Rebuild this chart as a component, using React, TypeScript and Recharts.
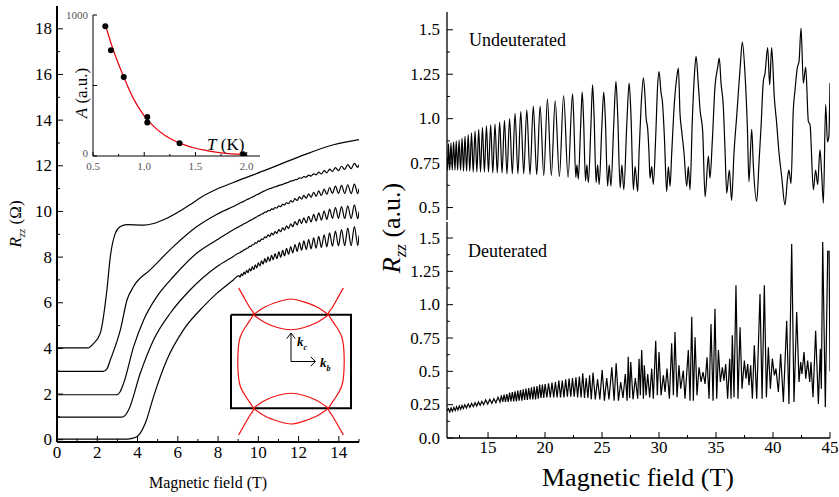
import React from 'react'
import { LineChart, Line, XAxis, YAxis, ComposedChart } from 'recharts'

const SERIF = '"Liberation Serif", "DejaVu Serif", "Times New Roman", Times, serif'

// ---- left panel: Rzz(B) at several temperatures, offset by 1 ohm each
const rise0 = [[0, 0.03], [3.5, 0.03], [3.73, 0.06], [4.0, 0.15], [4.4, 0.75], [4.8, 1.9], [5.46, 3.5], [6.29, 4.82], [7.28, 5.84], [7.95, 6.42], [8.76, 7.0]]
const rise1 = [[0, 0.99], [3.2, 0.99], [3.4, 1.08], [3.56, 1.31], [4.14, 2.92], [4.8, 4.38], [5.63, 5.55], [6.62, 6.57], [7.95, 7.59], [8.76, 8.03]]
const rise2 = [[0, 1.97], [2.95, 1.97], [3.12, 2.08], [3.31, 2.48], [3.81, 4.09], [4.31, 5.26], [4.97, 6.28], [5.79, 7.15], [6.95, 8.18], [7.95, 8.76], [8.76, 9.2]]
const rise3 = [[0, 2.99], [2.3, 2.99], [2.48, 3.1], [2.65, 3.5], [3.15, 4.82], [3.48, 6.13], [3.81, 6.72], [4.64, 7.45], [5.79, 8.47], [6.95, 9.34], [7.95, 9.88], [8.76, 10.22]]
const curve4 = [[0, 4.02], [1.55, 4.02], [1.8, 4.2], [2.15, 4.67], [2.48, 6.57], [2.65, 8.03], [2.9, 9.05], [3.15, 9.34], [3.48, 9.42], [4.3, 9.4], [4.8, 9.47], [5.46, 9.7], [6.62, 10.3], [7.1, 10.59], [7.95, 10.98], [8.76, 11.27], [10.42, 11.83], [12.07, 12.41], [13.73, 12.92], [15, 13.15]]

// extrema of the SdH wiggles above 9 T (shared field positions)
const oscField = [9.03, 9.09, 9.16, 9.22, 9.29, 9.35, 9.42, 9.49, 9.56, 9.63, 9.7, 9.77, 9.85, 9.92, 10.0, 10.08, 10.16, 10.24, 10.32, 10.4, 10.48, 10.57, 10.66, 10.74, 10.83, 10.92, 11.02, 11.11, 11.21, 11.3, 11.4, 11.5, 11.61, 11.71, 11.82, 11.93, 12.04, 12.15, 12.26, 12.38, 12.5, 12.62, 12.75, 12.87, 13.0, 13.13, 13.27, 13.4, 13.54, 13.68, 13.83, 13.98, 14.13, 14.29, 14.44, 14.61, 14.77, 14.94, 15.0]
const osc0 = [7.19, 7.12, 7.27, 7.19, 7.34, 7.25, 7.42, 7.32, 7.5, 7.39, 7.58, 7.45, 7.66, 7.53, 7.75, 7.61, 7.84, 7.69, 7.93, 7.76, 8.01, 7.82, 8.08, 7.88, 8.15, 7.93, 8.23, 7.99, 8.3, 8.05, 8.38, 8.12, 8.46, 8.18, 8.55, 8.25, 8.64, 8.3, 8.71, 8.33, 8.77, 8.36, 8.84, 8.39, 8.91, 8.42, 8.98, 8.45, 9.06, 8.48, 9.14, 8.49, 9.2, 8.5, 9.27, 8.5, 9.34, 8.51, 8.95]
const osc1 = [8.18, 8.19, 8.25, 8.26, 8.32, 8.33, 8.39, 8.4, 8.47, 8.47, 8.54, 8.54, 8.63, 8.61, 8.71, 8.69, 8.8, 8.77, 8.89, 8.85, 8.97, 8.91, 9.05, 8.97, 9.12, 9.04, 9.2, 9.11, 9.28, 9.18, 9.37, 9.25, 9.46, 9.33, 9.55, 9.41, 9.65, 9.47, 9.72, 9.5, 9.79, 9.54, 9.87, 9.58, 9.94, 9.62, 10.02, 9.65, 10.1, 9.7, 10.17, 9.7, 10.21, 9.69, 10.25, 9.69, 10.29, 9.68, 10.0]
const osc2 = [9.33, 9.36, 9.39, 9.42, 9.46, 9.48, 9.52, 9.55, 9.59, 9.62, 9.65, 9.69, 9.73, 9.76, 9.81, 9.83, 9.89, 9.9, 9.97, 9.97, 10.04, 10.03, 10.11, 10.09, 10.17, 10.15, 10.25, 10.21, 10.32, 10.28, 10.39, 10.34, 10.47, 10.41, 10.56, 10.48, 10.64, 10.54, 10.7, 10.58, 10.77, 10.62, 10.84, 10.66, 10.9, 10.7, 10.98, 10.75, 11.05, 10.79, 11.11, 10.79, 11.14, 10.79, 11.17, 10.78, 11.2, 10.78, 11.0]
const osc3 = [10.34, 10.37, 10.4, 10.42, 10.45, 10.48, 10.51, 10.54, 10.57, 10.6, 10.63, 10.66, 10.7, 10.73, 10.76, 10.8, 10.84, 10.87, 10.91, 10.94, 10.97, 11.0, 11.02, 11.05, 11.08, 11.1, 11.14, 11.16, 11.19, 11.22, 11.25, 11.28, 11.33, 11.34, 11.39, 11.4, 11.47, 11.46, 11.53, 11.5, 11.59, 11.55, 11.65, 11.6, 11.72, 11.64, 11.79, 11.69, 11.85, 11.75, 11.92, 11.79, 11.98, 11.84, 12.05, 11.88, 12.11, 11.93, 12.05]

const fieldTicks = [0, 1, 2, 3, 4, 5, 6, 7, 8, 9, 10, 11, 12, 13, 14, 15]
const rTicks = [0, 1, 2, 3, 4, 5, 6, 7, 8, 9, 10, 11, 12, 13, 14, 15, 16, 17, 18]

// ---- inset: oscillation amplitude vs temperature
const ampPoints = [[0.62, 921], [0.675, 750], [0.8, 561], [1.03, 276], [1.03, 238], [1.345, 90], [1.965, 12]]
const ampFit = [[0.62, 930], [0.7, 748], [0.8, 561], [0.9, 400], [1.0, 285], [1.1, 205], [1.2, 147], [1.3, 106], [1.4, 77], [1.5, 55], [1.6, 40], [1.7, 28], [1.8, 19], [1.9, 13], [2.0, 9]]
const tTicks = [0.5, 0.75, 1.0, 1.25, 1.5, 1.75, 2.0]
const aTicks = [0, 500, 1000]

// ---- Fermi surface sketch (units of half the zone box)
const sheetLeft = [[-0.873, 1.572], [-0.762, 1.321], [-0.662, 1.107], [-0.628, 1.0], [-0.745, 0.764], [-0.845, 0.529], [-0.878, 0.293], [-0.887, 0], [-0.878, -0.293], [-0.845, -0.529], [-0.745, -0.764], [-0.628, -1.0], [-0.662, -1.107], [-0.762, -1.321], [-0.873, -1.572]]
const sheetRight = [[0.873, 1.572], [0.762, 1.321], [0.662, 1.107], [0.628, 1.0], [0.745, 0.764], [0.845, 0.529], [0.878, 0.293], [0.887, 0], [0.878, -0.293], [0.845, -0.529], [0.745, -0.764], [0.628, -1.0], [0.662, -1.107], [0.762, -1.321], [0.873, -1.572]]
const lensTopUpper = [[-0.628, 1.0], [-0.428, 1.171], [-0.212, 1.278], [0, 1.336], [0.205, 1.278], [0.422, 1.171], [0.628, 1.0]]
const lensTopLower = [[-0.628, 1.0], [-0.428, 0.829], [-0.212, 0.722], [0, 0.679], [0.205, 0.722], [0.422, 0.829], [0.628, 1.0]]
const lensBotUpper = [[-0.628, -1.0], [-0.428, -0.829], [-0.212, -0.722], [0, -0.679], [0.205, -0.722], [0.422, -0.829], [0.628, -1.0]]
const lensBotLower = [[-0.628, -1.0], [-0.428, -1.171], [-0.212, -1.278], [0, -1.336], [0.205, -1.278], [0.422, -1.171], [0.628, -1.0]]
const zoneBox = [[-1, 1], [1, 1], [1, -1], [-1, -1], [-1, 1]]
const arrowC = [[0, 0], [0, 0.61]]
const arrowCHead = [[-0.07, 0.49], [0, 0.61], [0.07, 0.49]]
const arrowB = [[0, 0], [0.405, 0]]
const arrowBHead = [[0.33, 0.1], [0.405, 0], [0.33, -0.1]]

// ---- right panels: high field traces
const undeuterated = [
  [11.4, 0.78], [11.46, 0.71], [11.53, 0.86], [11.64, 0.71], [11.75, 0.865], [11.86, 0.71], [11.98, 0.87], [12.1, 0.71], [12.21, 0.875], [12.33, 0.71],
  [12.46, 0.88], [12.59, 0.71], [12.72, 0.89], [12.85, 0.705], [12.98, 0.9], [13.12, 0.705], [13.26, 0.91], [13.4, 0.705], [13.55, 0.92], [13.7, 0.7],
  [13.86, 0.93], [14.02, 0.7], [14.18, 0.94], [14.34, 0.7], [14.51, 0.95], [14.68, 0.7], [14.86, 0.96], [15.04, 0.7], [15.23, 0.965], [15.42, 0.695],
  [15.61, 0.97], [15.81, 0.695], [16.02, 0.98], [16.23, 0.695], [16.44, 0.99], [16.66, 0.69], [16.89, 1.0], [17.13, 0.69], [17.37, 1.03], [17.62, 0.69],
  [17.87, 1.04], [18.13, 0.69], [18.4, 1.05], [18.68, 0.685], [18.97, 1.07], [19.27, 0.685], [19.57, 1.07], [19.89, 0.68], [20.21, 1.11], [20.55, 0.68],
  [20.89, 1.1], [21.26, 0.675], [21.63, 1.13], [22.02, 0.67], [22.41, 1.14],
  [22.52, 1.0], [22.7, 0.67], [22.8, 0.74], [22.92, 0.66], [23.12, 0.95], [23.26, 1.15],
  [23.38, 1.0], [23.55, 0.65], [23.67, 0.74], [23.8, 0.64], [24.02, 0.95], [24.17, 1.19],
  [24.3, 1.02], [24.48, 0.64], [24.61, 0.74], [24.75, 0.63], [24.98, 0.95], [25.15, 1.15],
  [25.29, 1.0], [25.49, 0.62], [25.63, 0.74], [25.78, 0.62], [26.03, 0.97], [26.22, 1.21],
  [26.37, 1.03], [26.59, 0.61], [26.74, 0.74], [26.91, 0.6], [27.18, 0.98], [27.38, 1.2],
  [27.54, 1.02], [27.75, 0.6], [27.9, 0.73], [28.13, 0.59], [28.25, 0.81], [28.42, 1.06], [28.63, 1.23],
  [28.77, 1.125], [28.86, 1.01], [29.01, 0.94], [29.12, 0.81], [29.21, 0.665], [29.36, 0.73], [29.5, 0.63], [29.71, 0.9], [29.88, 1.19], [30.0, 1.265],
  [30.18, 1.145], [30.29, 1.1], [30.47, 0.9], [30.67, 0.59], [30.82, 0.73], [30.97, 0.62], [31.11, 0.8], [31.35, 1.09], [31.55, 1.23], [31.7, 1.285],
  [31.84, 1.03], [31.99, 0.93], [32.19, 0.81], [32.43, 0.62], [32.57, 0.73], [32.72, 0.6], [32.92, 0.99], [33.1, 1.24], [33.25, 1.35], [33.45, 1.19],
  [33.6, 1.05], [33.83, 0.93], [34.04, 0.56], [34.33, 0.79], [34.47, 0.665], [34.68, 0.88], [34.91, 1.18], [35.15, 1.29], [35.29, 1.34], [35.44, 1.2],
  [35.64, 1.07], [35.79, 0.825], [35.94, 0.58], [36.17, 0.71], [36.37, 0.54], [36.58, 0.81], [36.81, 1.01], [37.11, 1.28], [37.31, 1.43], [37.54, 1.255],
  [37.75, 0.955], [37.89, 0.645], [38.13, 0.94], [38.28, 0.73], [38.57, 0.535], [38.77, 0.75], [38.95, 0.955], [39.15, 1.21], [39.3, 1.255], [39.53, 1.4],
  [39.71, 1.19], [39.88, 1.4], [40.12, 1.115], [40.32, 0.975], [40.53, 0.805], [40.76, 0.675], [41.05, 0.515], [41.29, 0.675], [41.4, 0.71], [41.58, 0.635],
  [41.78, 1.05], [41.93, 1.16], [42.14, 1.29], [42.28, 1.32], [42.46, 1.51], [42.66, 1.2], [42.87, 1.29], [43.1, 0.985], [43.25, 0.965], [43.54, 0.6],
  [43.74, 0.71], [43.92, 0.63], [44.12, 0.825], [44.27, 0.69], [44.42, 0.525], [44.62, 1.08], [44.78, 0.87], [44.9, 0.9], [45.0, 1.2],
]

const deuterated = [
  [11.4, 0.205], [11.52, 0.22], [11.64, 0.195], [11.76, 0.225], [11.88, 0.2], [12.0, 0.23], [12.12, 0.205], [12.24, 0.235], [12.36, 0.21], [12.48, 0.24],
  [12.6, 0.215], [12.72, 0.245], [12.84, 0.22], [12.96, 0.25], [13.11, 0.225], [13.26, 0.255], [13.41, 0.23], [13.56, 0.26], [13.71, 0.235], [13.86, 0.265],
  [14.01, 0.24], [14.16, 0.27], [14.31, 0.245], [14.46, 0.275], [14.61, 0.25], [14.79, 0.285], [14.97, 0.255], [15.15, 0.29], [15.33, 0.26], [15.51, 0.295],
  [15.69, 0.265], [15.87, 0.305], [16.05, 0.27], [16.17, 0.32], [16.29, 0.27], [16.41, 0.325], [16.53, 0.27], [16.65, 0.33], [16.77, 0.27], [16.89, 0.34],
  [17.01, 0.275], [17.13, 0.345], [17.25, 0.275], [17.37, 0.35], [17.49, 0.275], [17.61, 0.355], [17.73, 0.28], [17.85, 0.36], [17.97, 0.28], [18.09, 0.365],
  [18.21, 0.285], [18.33, 0.37], [18.45, 0.285], [18.57, 0.375], [18.69, 0.29], [18.81, 0.38], [18.93, 0.29], [19.05, 0.385], [19.17, 0.29], [19.29, 0.39],
  [19.41, 0.295], [19.53, 0.4], [19.65, 0.3], [19.77, 0.4], [19.89, 0.3], [20.01, 0.405], [20.16, 0.305], [20.31, 0.41], [20.46, 0.305], [20.61, 0.415],
  [20.76, 0.305], [20.91, 0.42], [21.06, 0.305], [21.21, 0.43], [21.36, 0.305], [21.51, 0.43], [21.66, 0.305], [21.81, 0.44], [21.96, 0.31], [22.11, 0.445],
  [22.26, 0.31], [22.41, 0.45], [22.56, 0.31], [22.71, 0.455], [22.86, 0.305], [23.01, 0.46], [23.16, 0.305], [23.31, 0.485], [23.46, 0.3], [23.61, 0.45],
  [23.76, 0.3], [23.91, 0.47], [24.06, 0.29], [24.21, 0.49], [24.41, 0.29], [24.61, 0.44], [24.81, 0.29], [25.01, 0.51], [25.21, 0.28], [25.41, 0.45],
  [25.61, 0.29], [25.86, 0.53], [26.06, 0.28], [26.24, 0.56], [26.44, 0.28], [26.64, 0.42], [26.84, 0.3], [27.04, 0.48], [27.2, 0.28], [27.3, 0.61],
  [27.42, 0.3], [27.52, 0.57], [27.72, 0.29], [27.92, 0.45], [28.13, 0.295], [28.25, 0.595], [28.36, 0.32], [28.48, 0.66], [28.63, 0.295], [28.71, 0.545],
  [28.86, 0.32], [29.01, 0.48], [29.18, 0.305], [29.36, 0.52], [29.5, 0.295], [29.71, 0.73], [29.85, 0.32], [30.0, 0.645], [30.18, 0.32], [30.38, 0.47],
  [30.53, 0.345], [30.7, 0.52], [30.91, 0.295], [31.11, 0.71], [31.26, 0.32], [31.4, 0.795], [31.58, 0.305], [31.75, 0.545], [31.9, 0.37], [32.13, 0.505],
  [32.28, 0.295], [32.57, 0.66], [32.72, 0.28], [32.87, 0.91], [33.01, 0.28], [33.16, 0.755], [33.33, 0.32], [33.51, 0.53], [33.69, 0.42], [33.86, 0.495],
  [34.04, 0.405], [34.21, 0.605], [34.39, 0.295], [34.56, 0.855], [34.74, 0.28], [34.91, 0.97], [35.06, 0.295], [35.21, 0.66], [35.38, 0.42], [35.56, 0.53],
  [35.7, 0.43], [35.85, 0.555], [36.02, 0.295], [36.2, 0.595], [36.32, 0.295], [36.43, 0.77], [36.58, 0.305], [36.75, 1.145], [36.93, 0.295], [37.11, 0.83],
  [37.28, 0.37], [37.49, 0.58], [37.63, 0.445], [37.78, 0.555], [37.89, 0.395], [38.04, 0.545], [38.19, 0.295], [38.36, 0.695], [38.57, 0.295], [38.86, 1.08],
  [39.04, 0.295], [39.24, 1.145], [39.42, 0.305], [39.59, 0.68], [39.77, 0.37], [39.94, 0.595], [40.12, 0.47], [40.26, 0.52], [40.47, 0.345], [40.67, 0.63],
  [40.91, 0.27], [41.2, 0.88], [41.4, 0.255], [41.64, 1.455], [41.84, 0.27], [42.08, 0.945], [42.28, 0.42], [42.43, 0.57], [42.54, 0.48], [42.72, 0.645],
  [42.87, 0.445], [43.04, 0.58], [43.22, 0.42], [43.33, 0.57], [43.51, 0.305], [43.74, 0.805], [43.98, 0.255], [44.15, 0.67], [44.24, 0.37], [44.36, 1.47],
  [44.59, 0.23], [44.8, 1.4], [44.92, 1.4], [45.0, 0.5],
]

const highFieldTicks = [12.5, 15, 17.5, 20, 22.5, 25, 27.5, 30, 32.5, 35, 37.5, 40, 42.5, 45]
const upperTicks = [0.5, 0.625, 0.75, 0.875, 1, 1.125, 1.25, 1.375, 1.5]
const lowerTicks = [0, 0.125, 0.25, 0.375, 0.5, 0.625, 0.75, 0.875, 1, 1.125, 1.25, 1.375, 1.5]

type Pair = number[]
const pts = (pairs: Pair[]) => pairs.map(([x, y]) => ({ x, y }))
const withOsc = (rise: Pair[], osc: number[]) => [...pts(rise), ...oscField.map((x, i) => ({ x, y: osc[i] }))]

type Side = 'left' | 'right' | 'top' | 'bottom'
interface TickOpts {
  isMajor: (v: number) => boolean
  label?: (v: number) => string | null
  fontSize?: number
  color?: string
  major?: number
  minor?: number
  gap?: number
  dy?: number
}

function makeTick(side: Side, o: TickOpts) {
  return (props: any) => {
    const { x, y, payload } = props
    const v = payload.value as number
    const big = o.isMajor(v)
    const len = big ? o.major ?? 6 : o.minor ?? 3
    const text = big && o.label ? o.label(v) : null
    const gap = o.gap ?? 6
    let l = { x1: x, x2: x, y1: y, y2: y }
    if (side === 'left') l = { ...l, x2: x + len }
    if (side === 'right') l = { ...l, x2: x - len }
    if (side === 'top') l = { ...l, y2: y + len }
    if (side === 'bottom') l = { ...l, y2: y - len }
    const font = { fontSize: o.fontSize ?? 17, fontFamily: SERIF, fill: o.color ?? '#000' }
    return (
      <g>
        <line {...l} stroke="#000" strokeWidth={1} />
        {text !== null && side === 'left' && (
          <text x={x - gap} y={y + (v === 0 ? o.dy ?? 0 : 0)} textAnchor="end" dominantBaseline="central" style={font}>
            {text}
          </text>
        )}
        {text !== null && side === 'bottom' && (
          <text x={x} y={y + gap} textAnchor="middle" dominantBaseline="hanging" style={font}>
            {text}
          </text>
        )}
      </g>
    )
  }
}

const even = (v: number) => v % 2 === 0
const quarter = (v: number) => Math.abs(v * 4 - Math.round(v * 4)) < 1e-9
const half = (v: number) => Math.abs(v * 2 - Math.round(v * 2)) < 1e-9
const five = (v: number) => v % 5 === 0
const oneDecimal = (v: number) => (v % 1 === 0 ? v.toFixed(1) : String(v))

const axisBase = { type: 'number' as const, interval: 0 as const, tickSize: 0, tickMargin: 0, tickLine: false, allowDataOverflow: true }

function abs(left: number, top: number, extra: React.CSSProperties = {}): React.CSSProperties {
  return { position: 'absolute', left, top, whiteSpace: 'nowrap', fontFamily: SERIF, color: '#000', lineHeight: 1, ...extra }
}

function MainPanel() {
  const frame = { stroke: '#000', strokeWidth: 2 }
  const curves = [pts(curve4), withOsc(rise3, osc3), withOsc(rise2, osc2), withOsc(rise1, osc1), withOsc(rise0, osc0)]
  return (
    <LineChart width={380} height={497} margin={{ top: 6, right: 21, bottom: 25, left: 0 }}>
      <XAxis {...axisBase} xAxisId="b" dataKey="x" domain={[0, 15]} ticks={fieldTicks} height={30} axisLine={frame}
        tick={makeTick('bottom', { isMajor: even, label: (v) => String(v), gap: 4 })} />
      <XAxis {...axisBase} xAxisId="t" orientation="top" dataKey="x" domain={[0, 15]} ticks={fieldTicks} height={0} axisLine={frame}
        tick={makeTick('top', { isMajor: even })} />
      <YAxis {...axisBase} yAxisId="l" domain={[-0.1, 19]} ticks={rTicks} width={57} axisLine={frame}
        tick={makeTick('left', { isMajor: even, label: (v) => String(v), gap: 5 })} />
      <YAxis {...axisBase} yAxisId="r" orientation="right" domain={[-0.1, 19]} ticks={rTicks} width={0} axisLine={frame}
        tick={makeTick('right', { isMajor: even })} />
      {curves.map((d, i) => (
        <Line key={i} xAxisId="b" yAxisId="l" data={d} dataKey="y" type="monotone" stroke="#000" strokeWidth={1.2} dot={false} isAnimationActive={false} />
      ))}
    </LineChart>
  )
}

function AmplitudeInset() {
  const frame = { stroke: '#000', strokeWidth: 1 }
  const tickStyle = { fontSize: 11, color: '#555', major: 4, minor: 2, gap: 6 }
  return (
    <ComposedChart width={280} height={180} margin={{ top: 15, right: 20, bottom: 4, left: 0 }}>
      <XAxis {...axisBase} xAxisId="b" dataKey="x" domain={[0.5, 2.13]} ticks={tTicks} height={20} axisLine={frame}
        tick={makeTick('bottom', { ...tickStyle, isMajor: half, label: (v) => v.toFixed(1) })} />
      <YAxis {...axisBase} yAxisId="l" domain={[0, 1000]} ticks={aTicks} width={93} axisLine={frame}
        tick={makeTick('left', { ...tickStyle, gap: 5, dy: -3, isMajor: () => true, label: (v) => (v === 500 ? null : String(v)) })} />
      <YAxis {...axisBase} yAxisId="r" orientation="right" domain={[0, 1000]} ticks={[500]} width={0} axisLine={frame}
        tick={makeTick('right', { ...tickStyle, isMajor: () => true })} />
      <Line xAxisId="b" yAxisId="l" data={pts(ampFit)} dataKey="y" type="monotone" stroke="#e8000b" strokeWidth={1.2} dot={false} isAnimationActive={false} />
      <Line xAxisId="b" yAxisId="l" data={pts(ampPoints)} dataKey="y" stroke="none" dot={{ r: 3, fill: '#000', stroke: 'none' }} isAnimationActive={false} />
    </ComposedChart>
  )
}

function FermiSketch() {
  const red = [sheetLeft, sheetRight, lensTopUpper, lensTopLower, lensBotUpper, lensBotLower]
  const black = [arrowC, arrowCHead, arrowB, arrowBHead]
  return (
    <LineChart width={144} height={159} margin={{ top: 0, right: 0, bottom: 0, left: 0 }}>
      <XAxis type="number" dataKey="x" domain={[-1.2, 1.2]} hide allowDataOverflow />
      <YAxis type="number" domain={[-1.7, 1.7]} hide allowDataOverflow />
      <Line data={pts(zoneBox)} dataKey="y" type="linear" stroke="#000" strokeWidth={2} dot={false} isAnimationActive={false} />
      {red.map((d, i) => (
        <Line key={'r' + i} data={pts(d)} dataKey="y" type="natural" stroke="#f01010" strokeWidth={1.2} dot={false} isAnimationActive={false} />
      ))}
      {black.map((d, i) => (
        <Line key={'a' + i} data={pts(d)} dataKey="y" type="linear" stroke="#000" strokeWidth={1} dot={false} isAnimationActive={false} />
      ))}
    </LineChart>
  )
}

function HighFieldPanel({ data, domain, ticks, upper }: { data: Pair[]; domain: number[]; ticks: number[]; upper: boolean }) {
  const frame = { stroke: '#000', strokeWidth: 1.3 }
  return (
    <LineChart width={459} height={upper ? 220 : 497} margin={{ top: upper ? 12 : 222, right: 9, bottom: upper ? 0 : 29, left: 0 }}>
      <XAxis {...axisBase} xAxisId="b" dataKey="x" domain={[11.4, 45]} ticks={highFieldTicks} height={upper ? 0 : 30} axisLine={frame}
        tick={makeTick('bottom', { isMajor: five, label: upper ? undefined : (v) => String(v), gap: 3 })} />
      <XAxis {...axisBase} xAxisId="t" orientation="top" dataKey="x" domain={[11.4, 45]} ticks={highFieldTicks} height={0} axisLine={frame}
        tick={makeTick('top', { isMajor: five })} />
      <YAxis {...axisBase} yAxisId="l" domain={domain} ticks={ticks} width={67} axisLine={frame}
        tick={makeTick('left', { isMajor: quarter, label: oneDecimal, gap: 7 })} />
      <YAxis {...axisBase} yAxisId="r" orientation="right" domain={domain} ticks={ticks} width={0} axisLine={frame}
        tick={makeTick('right', { isMajor: quarter })} />
      <Line xAxisId="b" yAxisId="l" data={pts(data)} dataKey="y" type={upper ? 'monotone' : 'linear'} stroke="#000" strokeWidth={1.2} dot={false} isAnimationActive={false} />
    </LineChart>
  )
}

export default function App() {
  return (
    <div style={{ position: 'absolute', left: 0, top: 0, width: 839, height: 497, background: '#fff', overflow: 'hidden', fontFamily: SERIF }}>
      <div style={{ position: 'absolute', left: 0, top: 0 }}>
        <MainPanel />
      </div>
      <div style={{ position: 'absolute', left: 93, top: 15, width: 167, height: 141, background: '#fff' }} />
      <div style={{ position: 'absolute', left: 0, top: 0 }}>
        <AmplitudeInset />
      </div>
      <div style={{ position: 'absolute', left: 218.7, top: 282.3 }}>
        <FermiSketch />
      </div>
      <div style={{ position: 'absolute', left: 380, top: 0 }}>
        <HighFieldPanel data={undeuterated} domain={[0.43, 1.6]} ticks={upperTicks} upper />
      </div>
      <div style={{ position: 'absolute', left: 380, top: 0 }}>
        <HighFieldPanel data={deuterated} domain={[0, 1.62]} ticks={lowerTicks} upper={false} />
      </div>

      {/* axis titles and annotations */}
      <div style={abs(17, 224, { fontSize: 17, transform: 'translate(-50%,-50%) rotate(-90deg)' })}>
        <i>R</i>
        <sub style={{ fontSize: 11, fontStyle: 'italic' }}>zz</sub> (Ω)
      </div>
      <div style={abs(208, 483, { fontSize: 16, transform: 'translate(-50%,-50%)' })}>Magnetic field (T)</div>
      <div style={abs(81, 93, { fontSize: 17, transform: 'translate(-50%,-50%) rotate(-90deg)' })}>
        <i>A</i> (a.u.)
      </div>
      <div style={abs(207, 136, { fontSize: 17 })}>
        <i>T</i> (K)
      </div>
      <div style={abs(297, 335, { fontSize: 13, fontWeight: 'bold', fontStyle: 'italic' })}>
        k<sub style={{ fontSize: 8 }}>c</sub>
      </div>
      <div style={abs(320, 356, { fontSize: 13, fontWeight: 'bold', fontStyle: 'italic' })}>
        k<sub style={{ fontSize: 8 }}>b</sub>
      </div>
      <div style={abs(394, 228, { fontSize: 26, transform: 'translate(-50%,-50%) rotate(-90deg)' })}>
        <i>R</i>
        <sub style={{ fontSize: 17, fontStyle: 'italic' }}>zz</sub> (a.u.)
      </div>
      <div style={abs(638, 478, { fontSize: 26, transform: 'translate(-50%,-50%)' })}>Magnetic field (T)</div>
      <div style={abs(469, 31, { fontSize: 18 })}>Undeuterated</div>
      <div style={abs(468, 242, { fontSize: 18 })}>Deuterated</div>
    </div>
  )
}
